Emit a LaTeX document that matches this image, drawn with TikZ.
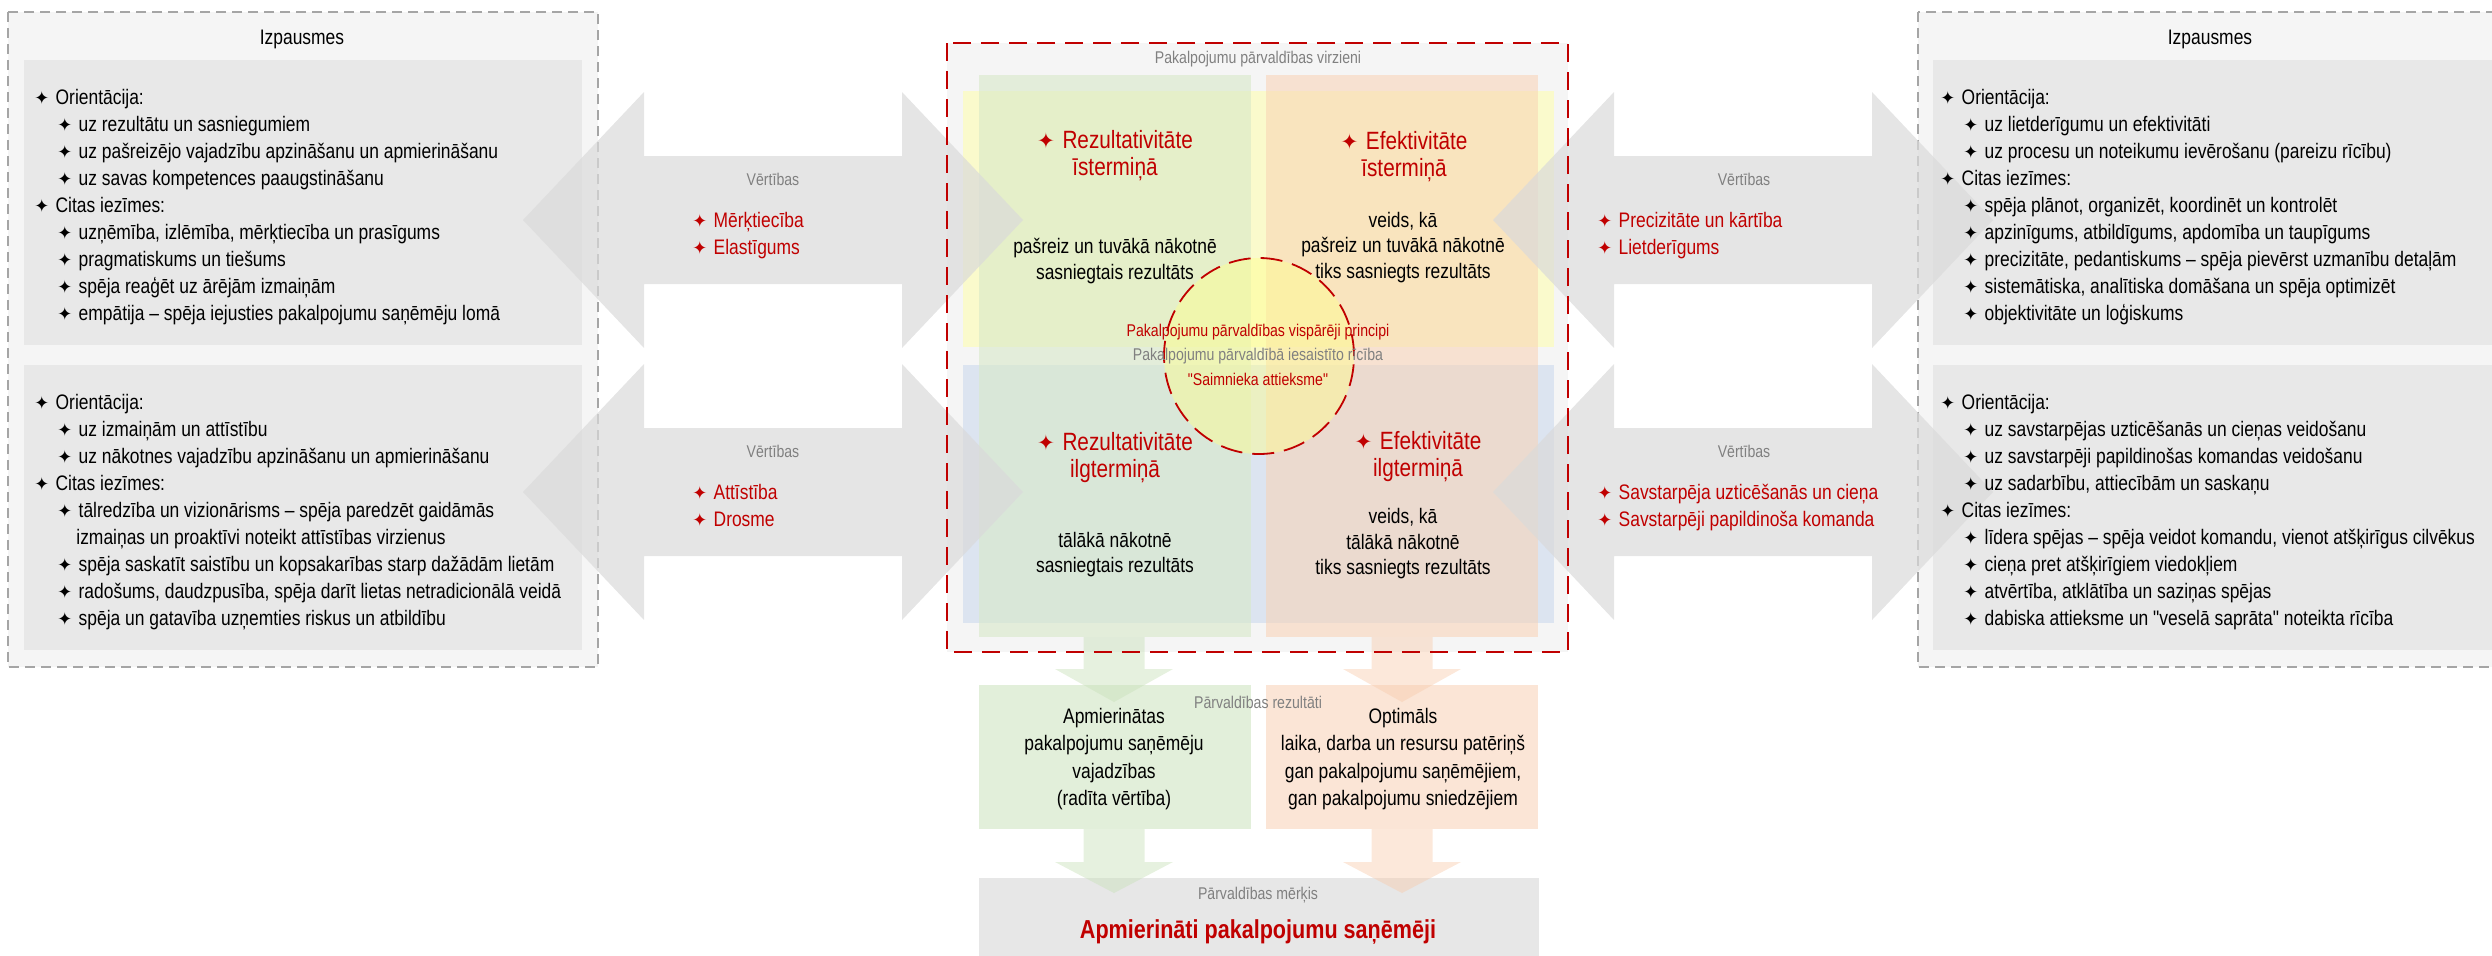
\documentclass[tikz,border=0pt]{standalone}
\usepackage{fontspec}
\setmainfont{Liberation Sans}[FakeStretch=0.83, Ligatures=TeXOff]
\newfontfamily\symfont{DejaVu Sans}

\definecolor{redtx}{RGB}{192,0,0}
\definecolor{graytx}{RGB}{128,128,128}
\definecolor{boxbg}{RGB}{245,245,245}
\definecolor{boxin}{RGB}{232,232,232}
\definecolor{dashgray}{RGB}{165,165,165}
\definecolor{arrgray}{RGB}{218,218,218}
\definecolor{bandyel}{RGB}{250,250,204}
\definecolor{bandblue}{RGB}{220,228,240}
\definecolor{colgreen}{RGB}{216,233,200}
\definecolor{colorange}{RGB}{249,210,180}
\definecolor{resgreen}{RGB}{226,239,218}
\definecolor{resorange}{RGB}{251,229,214}
\definecolor{arrgreen}{RGB}{200,225,185}
\definecolor{arrorange}{RGB}{248,203,173}
\definecolor{goalgray}{RGB}{231,231,231}
\definecolor{circyel}{RGB}{255,255,140}

\newcommand\st{{\symfont\scalebox{0.85}{✦}}\hspace{0.3em}}
\newcommand\sub{\hspace*{11.5pt}\st}

\tikzset{
  dashbox/.style={fill=boxbg, draw=dashgray, line width=0.6pt, dash pattern=on 5pt off 3pt},
  lst/.style={font=\fontsize{10.5}{13.55}\selectfont, align=left, anchor=north west, inner sep=0pt},
  redlst/.style={lst, text=redtx, font=\fontsize{10.5}{13.75}\selectfont},
  ttl/.style={font=\fontsize{12.5}{13.5}\selectfont, text=redtx, align=center, inner sep=0pt},
  bod/.style={font=\fontsize{10.5}{12.75}\selectfont, align=center, inner sep=0pt},
  res/.style={font=\fontsize{10.5}{13.65}\selectfont, align=center, inner sep=0pt},
  lbl/.style={font=\fontsize{8.5}{10}\selectfont, text=graytx, inner sep=0pt},
  grayarrow/.style={fill=arrgray, opacity=0.7}
}

\begin{document}
\begin{tikzpicture}[x=0.5pt,y=-0.5pt]
\useasboundingbox (0,0) rectangle (2492,955);

% side boxes
\draw[dashbox] (8,12) rectangle (598,667);
\fill[boxin] (24,60) rectangle (582,345);
\fill[boxin] (24,365) rectangle (582,650);
\draw[dashbox] (1918,12) rectangle (2520,667);
\fill[boxin] (1933,60) rectangle (2510,345);
\fill[boxin] (1933,365) rectangle (2510,650);

% directions
\fill[boxbg] (947,43) rectangle (1568,652);
\fill[bandyel] (963,91) rectangle (1554,347);
\fill[bandblue] (963,365) rectangle (1554,623);
\fill[colgreen,opacity=0.6] (979,75) rectangle (1251,637);
\fill[colorange,opacity=0.55] (1266,75) rectangle (1538,637);
\fill[circyel,opacity=0.45] (1259,356) ellipse [x radius=47.5pt, y radius=49pt];

% values arrows
\foreach \ax/\ay in {523/220, 523/492, 1493/220, 1493/492}
  \fill[grayarrow] (\ax,\ay) -- ++(121,-128) -- ++(0,64) -- ++(258,0) -- ++(0,-64)
    -- ++(121,128) -- ++(-121,128) -- ++(0,-64) -- ++(-258,0) -- ++(0,64) -- cycle;

% results and goal
\fill[resgreen] (979,685) rectangle (1251,829);
\fill[resorange] (1266,685) rectangle (1538,829);
\fill[goalgray] (979,878) rectangle (1539,960);
\foreach \cx/\col in {1114/arrgreen, 1402/arrorange}
  \foreach \ty/\hy/\py in {637/669/702, 829/862/893}
    \fill[\col,opacity=0.45] ({\cx-30.5},\ty) -- ({\cx+30.5},\ty) -- ({\cx+30.5},\hy) -- ({\cx+59},\hy)
      -- (\cx,\py) -- ({\cx-59},\hy) -- ({\cx-30.5},\hy) -- cycle;

\draw[redtx, line width=1pt, dash pattern=on 9pt off 5pt] (947,43) rectangle (1568,652);
\draw[redtx, line width=0.9pt, dash pattern=on 11pt off 5pt] (1259,356) ellipse [x radius=47.5pt, y radius=49pt];

% left texts
\node[font=\fontsize{10.5}{12}\selectfont, inner sep=0pt] (izpL) at (302,39) {Izpausmes};
\node[lst] (lstLU) at (34,88.5) {\st Orientācija:\\
  \sub uz rezultātu un sasniegumiem\\
  \sub uz pašreizējo vajadzību apzināšanu un apmierināšanu\\
  \sub uz savas kompetences paaugstināšanu\\
  \st Citas iezīmes:\\
  \sub uzņēmība, izlēmība, mērķtiecība un prasīgums\\
  \sub pragmatiskums un tiešums\\
  \sub spēja reaģēt uz ārējām izmaiņām\\
  \sub empātija – spēja iejusties pakalpojumu saņēmēju lomā};
\node[lst] (lstLL) at (34,393.5) {\st Orientācija:\\
  \sub uz izmaiņām un attīstību\\
  \sub uz nākotnes vajadzību apzināšanu un apmierināšanu\\
  \st Citas iezīmes:\\
  \sub tālredzība un vizionārisms – spēja paredzēt gaidāmās\\
  \hspace*{21pt}izmaiņas un proaktīvi noteikt attīstības virzienus\\
  \sub spēja saskatīt saistību un kopsakarības starp dažādām lietām\\
  \sub radošums, daudzpusība, spēja darīt lietas netradicionālā veidā\\
  \sub spēja un gatavība uzņemties riskus un atbildību};

% right texts
\node[font=\fontsize{10.5}{12}\selectfont, inner sep=0pt] (izpR) at (2210,39) {Izpausmes};
\node[lst] (lstRU) at (1940,88.5) {\st Orientācija:\\
  \sub uz lietderīgumu un efektivitāti\\
  \sub uz procesu un noteikumu ievērošanu (pareizu rīcību)\\
  \st Citas iezīmes:\\
  \sub spēja plānot, organizēt, koordinēt un kontrolēt\\
  \sub apzinīgums, atbildīgums, apdomība un taupīgums\\
  \sub precizitāte, pedantiskums – spēja pievērst uzmanību detaļām\\
  \sub sistemātiska, analītiska domāšana un spēja optimizēt\\
  \sub objektivitāte un loģiskums};
\node[lst] (lstRL) at (1940,393.5) {\st Orientācija:\\
  \sub uz savstarpējas uzticēšanās un cieņas veidošanu\\
  \sub uz savstarpēji papildinošas komandas veidošanu\\
  \sub uz sadarbību, attiecībām un saskaņu\\
  \st Citas iezīmes:\\
  \sub līdera spējas – spēja veidot komandu, vienot atšķirīgus cilvēkus\\
  \sub cieņa pret atšķirīgiem viedokļiem\\
  \sub atvērtība, atklātība un saziņas spējas\\
  \sub dabiska attieksme un "veselā saprāta" noteikta rīcība};

% values
\node[lbl] (vertLU) at (773,179) {Vērtības};
\node[redlst] (valLU) at (692,211.5) {\st Mērķtiecība\\ \st Elastīgums};
\node[lbl] (vertLL) at (773,451) {Vērtības};
\node[redlst] (valLL) at (692,483.5) {\st Attīstība\\ \st Drosme};
\node[lbl] (vertRU) at (1744,179) {Vērtības};
\node[redlst] (valRU) at (1597,211.5) {\st Precizitāte un kārtība\\ \st Lietderīgums};
\node[lbl] (vertRL) at (1744,451) {Vērtības};
\node[redlst] (valRL) at (1597,483.5) {\st Savstarpēja uzticēšanās un cieņa\\ \st Savstarpēji papildinoša komanda};

% quadrants
\node[lbl] (virz) at (1258,59) {Pakalpojumu pārvaldības virzieni};
\node[ttl] (rezI) at (1115,155.5) {\st Rezultativitāte\\īstermiņā};
\node[bod] (rezIt) at (1115,261) {pašreiz un tuvākā nākotnē\\sasniegtais rezultāts};
\node[ttl] (efeI) at (1404,156.5) {\st Efektivitāte\\īstermiņā};
\node[bod] (efeIt) at (1403,247.5) {veids, kā\\pašreiz un tuvākā nākotnē\\tiks sasniegts rezultāts};
\node[ttl] (rezL) at (1115,457.5) {\st Rezultativitāte\\ilgtermiņā};
\node[bod] (rezLt) at (1115,554.5) {tālākā nākotnē\\sasniegtais rezultāts};
\node[ttl] (efeL) at (1418,456.5) {\st Efektivitāte\\ilgtermiņā};
\node[bod] (efeLt) at (1403,544) {veids, kā\\tālākā nākotnē\\tiks sasniegts rezultāts};

% principles
\node[lbl, text=redtx] (princ) at (1258,332) {Pakalpojumu pārvaldības vispārēji principi};
\node[lbl] (ricib) at (1258,356) {Pakalpojumu pārvaldībā iesaistīto rīcība};
\node[lbl, text=redtx] (saimn) at (1258,379) {"Saimnieka attieksme"};

% results
\node[lbl] (rezu) at (1258,702) {Pārvaldības rezultāti};
\node[res] (apm) at (1114,759) {Apmierinātas\\pakalpojumu saņēmēju\\vajadzības\\(radīta vērtība)};
\node[res] (opt) at (1403,759) {Optimāls\\laika, darba un resursu patēriņš\\gan pakalpojumu saņēmējiem,\\gan pakalpojumu sniedzējiem};
\node[lbl] (merk) at (1258,895) {Pārvaldības mērķis};
\node[font=\fontsize{13}{15}\selectfont\bfseries, text=redtx, inner sep=0pt] (goal) at (1258,932) {Apmierināti pakalpojumu saņēmēji};
\end{tikzpicture}
\end{document}
